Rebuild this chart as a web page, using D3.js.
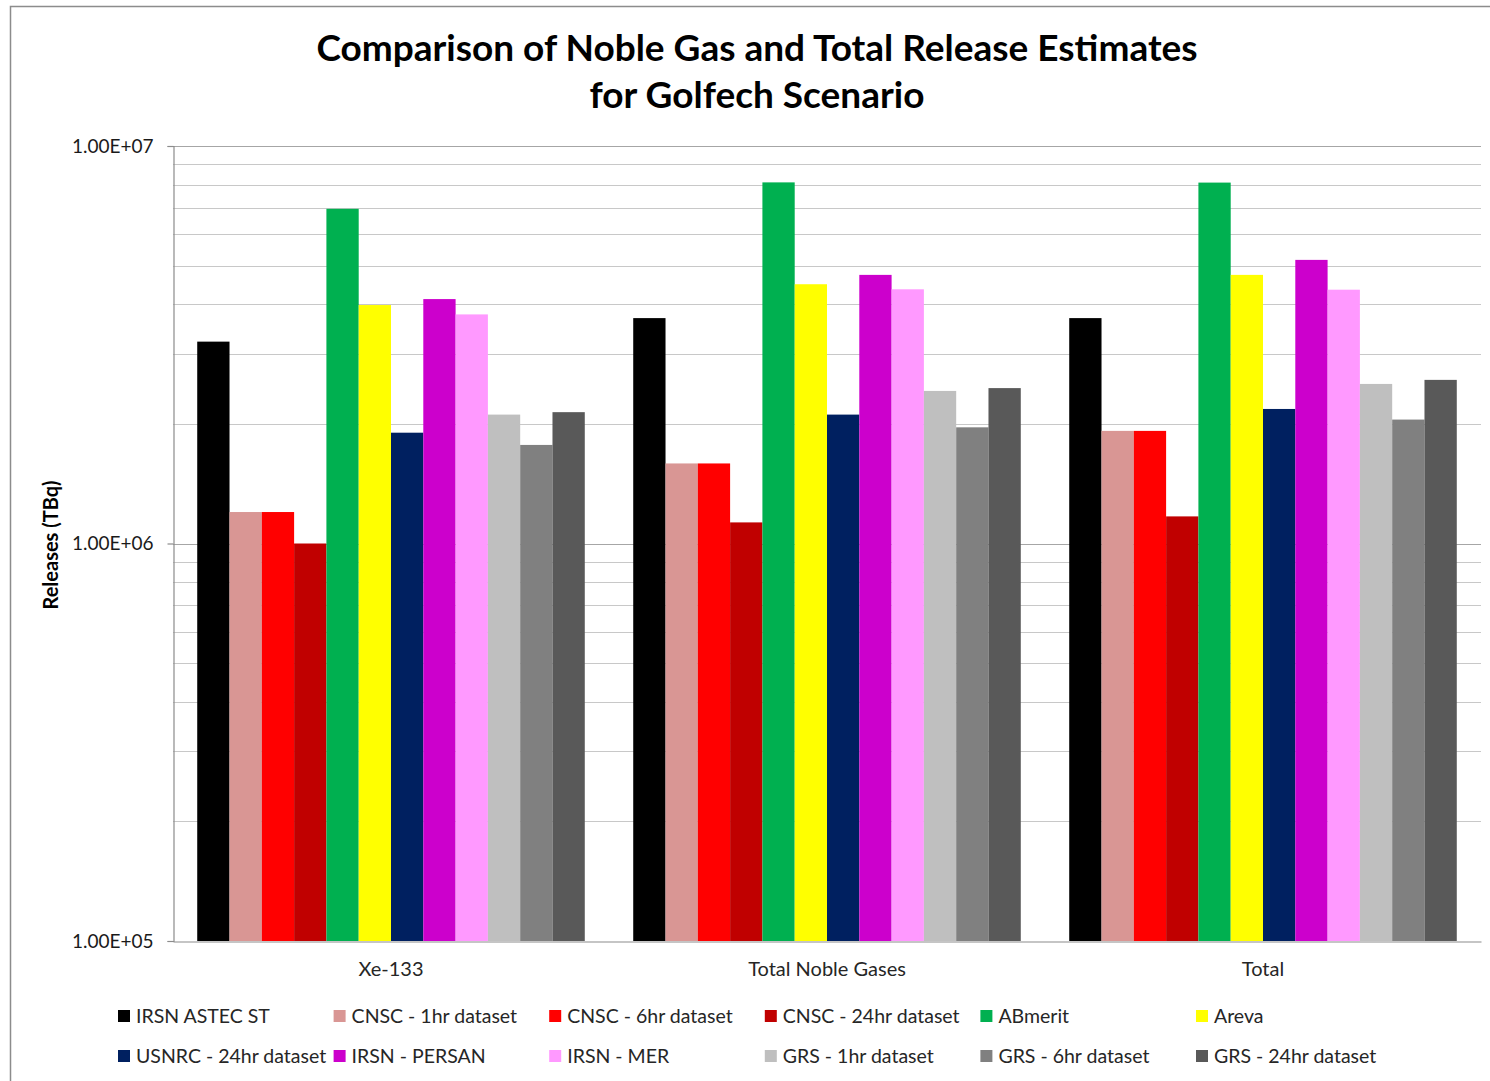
<!DOCTYPE html>
<html>
<head>
<meta charset="utf-8">
<script src="https://cdn.jsdelivr.net/npm/d3@7"></script>
<style>
  html, body { margin: 0; padding: 0; background: #fff; }
  svg { display: block; }
  text { font-family: Lato, "Open Sans", sans-serif; }
</style>
</head>
<body>
<svg id="chart" width="1490" height="1081"></svg>
<script>
// Release categories (x axis groups)
const categories = ["Xe-133", "Total Noble Gases", "Total"];

// Estimating organisations / datasets (one bar per series in each group)
const seriesNames = [
  "IRSN ASTEC ST", "CNSC - 1hr dataset", "CNSC - 6hr dataset", "CNSC - 24hr dataset",
  "ABmerit", "Areva", "USNRC - 24hr dataset", "IRSN - PERSAN",
  "IRSN - MER", "GRS - 1hr dataset", "GRS - 6hr dataset", "GRS - 24hr dataset"
];

const seriesColors = [
  "#000000", "#D99694", "#FF0000", "#C00000",
  "#00B050", "#FFFF00", "#002060", "#CC00CC",
  "#FF99FF", "#BFBFBF", "#808080", "#595959"
];

// Release estimates in TBq, in seriesNames order
const xe133Values =        [3.22e6, 1.20e6, 1.20e6, 1.00e6, 6.95e6, 3.98e6, 1.90e6, 4.12e6, 3.77e6, 2.11e6, 1.77e6, 2.14e6];
const nobleGasValues =     [3.69e6, 1.59e6, 1.59e6, 1.13e6, 8.10e6, 4.49e6, 2.11e6, 4.74e6, 4.36e6, 2.42e6, 1.96e6, 2.46e6];
const totalValues =        [3.69e6, 1.92e6, 1.92e6, 1.17e6, 8.09e6, 4.74e6, 2.18e6, 5.17e6, 4.35e6, 2.52e6, 2.05e6, 2.58e6];

const majorTicks = [1e5, 1e6, 1e7];
const tickLabels = ["1.00E+05", "1.00E+06", "1.00E+07"];

const valuesByCategory = [xe133Values, nobleGasValues, totalValues];

const svg = d3.select("#chart");

// Outer chart frame
svg.append("rect")
  .attr("x", 10.5).attr("y", 6.5)
  .attr("width", 1490).attr("height", 1090)
  .attr("fill", "#fff").attr("stroke", "#8c8c8c").attr("stroke-width", 1.5);

const plot = { left: 173, right: 1481, top: 146, bottom: 941 };

const y = d3.scaleLog().domain([1e5, 1e7]).range([plot.bottom, plot.top]);

const x0 = d3.scaleBand().domain(categories).range([plot.left, plot.right]).padding(0);
const gapFrac = 0.75 / 13.5;
const x1 = d3.scaleBand().domain(seriesNames)
  .range([x0.bandwidth() * gapFrac, x0.bandwidth() * (1 - gapFrac)]).padding(0);

// Gridlines: minor (2..9) and major (decades)
const gridVals = [];
for (let d = 1e5; d < 1e7; d *= 10) {
  for (let m = 1; m <= 9; m++) gridVals.push(d * m);
}
gridVals.push(1e7);
svg.append("g").selectAll("line").data(gridVals.filter(v => v > 1e5)).join("line")
  .attr("x1", plot.left).attr("x2", plot.right)
  .attr("y1", d => Math.round(y(d)) + 0.5).attr("y2", d => Math.round(y(d)) + 0.5)
  .attr("stroke", d => majorTicks.includes(d) ? "#a6a6a6" : "#c8c8c8")
  .attr("stroke-width", 1.2);

// Bars
const groups = svg.append("g").selectAll("g").data(categories).join("g")
  .attr("transform", c => `translate(${x0(c)},0)`);
groups.selectAll("rect")
  .data((c, ci) => seriesNames.map((s, si) => ({ s, si, v: valuesByCategory[ci][si] })))
  .join("rect")
  .attr("x", d => x1(d.s))
  .attr("width", x1.bandwidth())
  .attr("y", d => y(d.v))
  .attr("height", d => plot.bottom - y(d.v))
  .attr("fill", d => seriesColors[d.si]);

// Y axis
const yAxis = d3.axisLeft(y).tickValues(majorTicks)
  .tickFormat((d, i) => tickLabels[i]).tickSize(6).tickPadding(14);
const yg = svg.append("g").attr("transform", `translate(${plot.left + 0.5},0)`).call(yAxis);
yg.select(".domain").attr("stroke", "#8c8c8c").attr("stroke-width", 1.2);
yg.selectAll(".tick line").attr("stroke", "#8c8c8c").attr("stroke-width", 1.2);
yg.selectAll(".tick text").attr("font-size", 19).attr("fill", "#1a1a1a")
  .attr("font-family", "Lato, sans-serif");

// X axis
const xAxis = d3.axisBottom(x0).tickSize(0).tickPadding(20);
const xg = svg.append("g").attr("transform", `translate(0,${plot.bottom + 0.5})`).call(xAxis);
xg.select(".domain").attr("stroke", "#8c8c8c").attr("stroke-width", 1.2);
xg.selectAll(".tick text").attr("font-size", 20).attr("fill", "#262626")
  .attr("font-family", "Lato, sans-serif");

// Y axis title
svg.append("text")
  .attr("transform", `translate(58,545) rotate(-90)`)
  .attr("text-anchor", "middle")
  .attr("font-size", 20).attr("font-weight", "bold").attr("fill", "#000")
  .text("Releases (TBq)");

// Chart title
const title = svg.append("text").attr("text-anchor", "middle")
  .attr("font-size", 37).attr("font-weight", "bold").attr("fill", "#000");
title.append("tspan").attr("x", 757).attr("y", 61).text("Comparison of Noble Gas and Total Release Estimates");
title.append("tspan").attr("x", 757).attr("y", 108).text("for Golfech Scenario");

// Legend: two rows of six
const legend = svg.append("g").selectAll("g").data(seriesNames).join("g")
  .attr("transform", (d, i) => `translate(${118 + (i % 6) * 215.6},${i < 6 ? 1016 : 1056})`);
legend.append("rect")
  .attr("x", 0).attr("y", -6).attr("width", 12).attr("height", 12)
  .attr("fill", (d, i) => seriesColors[i]);
legend.append("text")
  .attr("x", 18).attr("y", 0).attr("dy", "0.35em")
  .attr("font-size", 19.5).attr("fill", "#262626")
  .text(d => d);
</script>
</body>
</html>
